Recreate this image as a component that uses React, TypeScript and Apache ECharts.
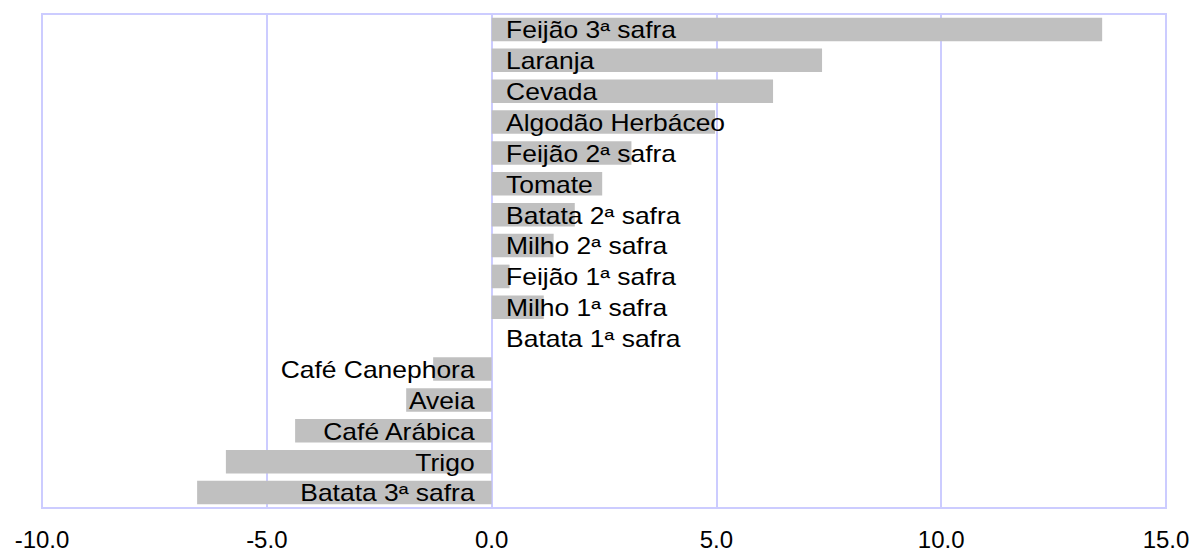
import React, { useEffect, useRef } from "react";
import * as echarts from "echarts";

const categories = [
  "Feijão 3ª safra",
  "Laranja",
  "Cevada",
  "Algodão Herbáceo",
  "Feijão 2ª safra",
  "Tomate",
  "Batata 2ª safra",
  "Milho 2ª safra",
  "Feijão 1ª safra",
  "Milho 1ª safra",
  "Batata 1ª safra",
  "Café Canephora",
  "Aveia",
  "Café Arábica",
  "Trigo",
  "Batata 3ª safra",
];

const values = [13.58, 7.35, 6.26, 4.97, 3.11, 2.46, 1.85, 1.38, 0.4, 1.16, 0.0, -1.3, -1.9, -4.37, -5.91, -6.55];

const xMin = -10;
const xMax = 15;
const xStep = 5;

const GRID_COLOR = "#ccccff";
const BAR_COLOR = "#c0c0c0";
const FONT = "Liberation Sans";

export default function App() {
  const ref = useRef<HTMLDivElement>(null);

  useEffect(() => {
    if (!ref.current) return;
    const chart = echarts.init(ref.current, undefined, { renderer: "svg" });
    const option: any = {
      animation: false,
      backgroundColor: "#ffffff",
      grid: {
        left: 42,
        right: 30,
        top: 14,
        bottom: 42,
        show: true,
        borderColor: GRID_COLOR,
        borderWidth: 2,
        backgroundColor: "transparent",
      },
      xAxis: {
        type: "value",
        min: xMin,
        max: xMax,
        interval: xStep,
        axisLine: { show: false },
        axisTick: { show: false },
        splitLine: { show: true, lineStyle: { color: GRID_COLOR, width: 2 } },
        axisLabel: {
          margin: 19,
          color: "#000",
          fontFamily: FONT,
          fontSize: 24,
          formatter: (v: number) => v.toFixed(1),
        },
      },
      yAxis: {
        type: "category",
        data: categories,
        inverse: true,
        axisLine: { show: false },
        axisTick: { show: false },
        axisLabel: { show: false },
        splitLine: { show: false },
      },
      series: [
        {
          type: "custom",
          encode: { x: 0, y: 1 },
          data: values.map((v, i) => [v, i]),
          renderItem: (params: any, api: any) => {
            const v = api.value(0);
            const idx = api.value(1);
            const p0 = api.coord([0, idx]);
            const p1 = api.coord([v, idx]);
            const band = api.size([0, 1])[1];
            const h = band * 0.765;
            const neg = v < 0;
            return {
              type: "group",
              children: [
                {
                  type: "rect",
                  shape: {
                    x: Math.min(p0[0], p1[0]),
                    y: p0[1] - h / 2,
                    width: Math.abs(p1[0] - p0[0]),
                    height: h,
                  },
                  style: { fill: BAR_COLOR },
                },
                {
                  type: "text",
                  x: p0[0] + (neg ? -17 : 14.5),
                  y: p0[1] + 1,
                  scaleX: 1.15,
                  style: {
                    text: categories[idx],
                    textAlign: neg ? "right" : "left",
                    textVerticalAlign: "middle",
                    fontFamily: FONT,
                    fontSize: 23,
                    fill: "#000",
                  },
                },
              ],
            };
          },
        },
      ],
    };
    chart.setOption(option);
    return () => chart.dispose();
  }, []);

  return (
    <div
      ref={ref}
      style={{ position: "fixed", left: 0, top: 0, width: 1196, height: 551 }}
    />
  );
}
